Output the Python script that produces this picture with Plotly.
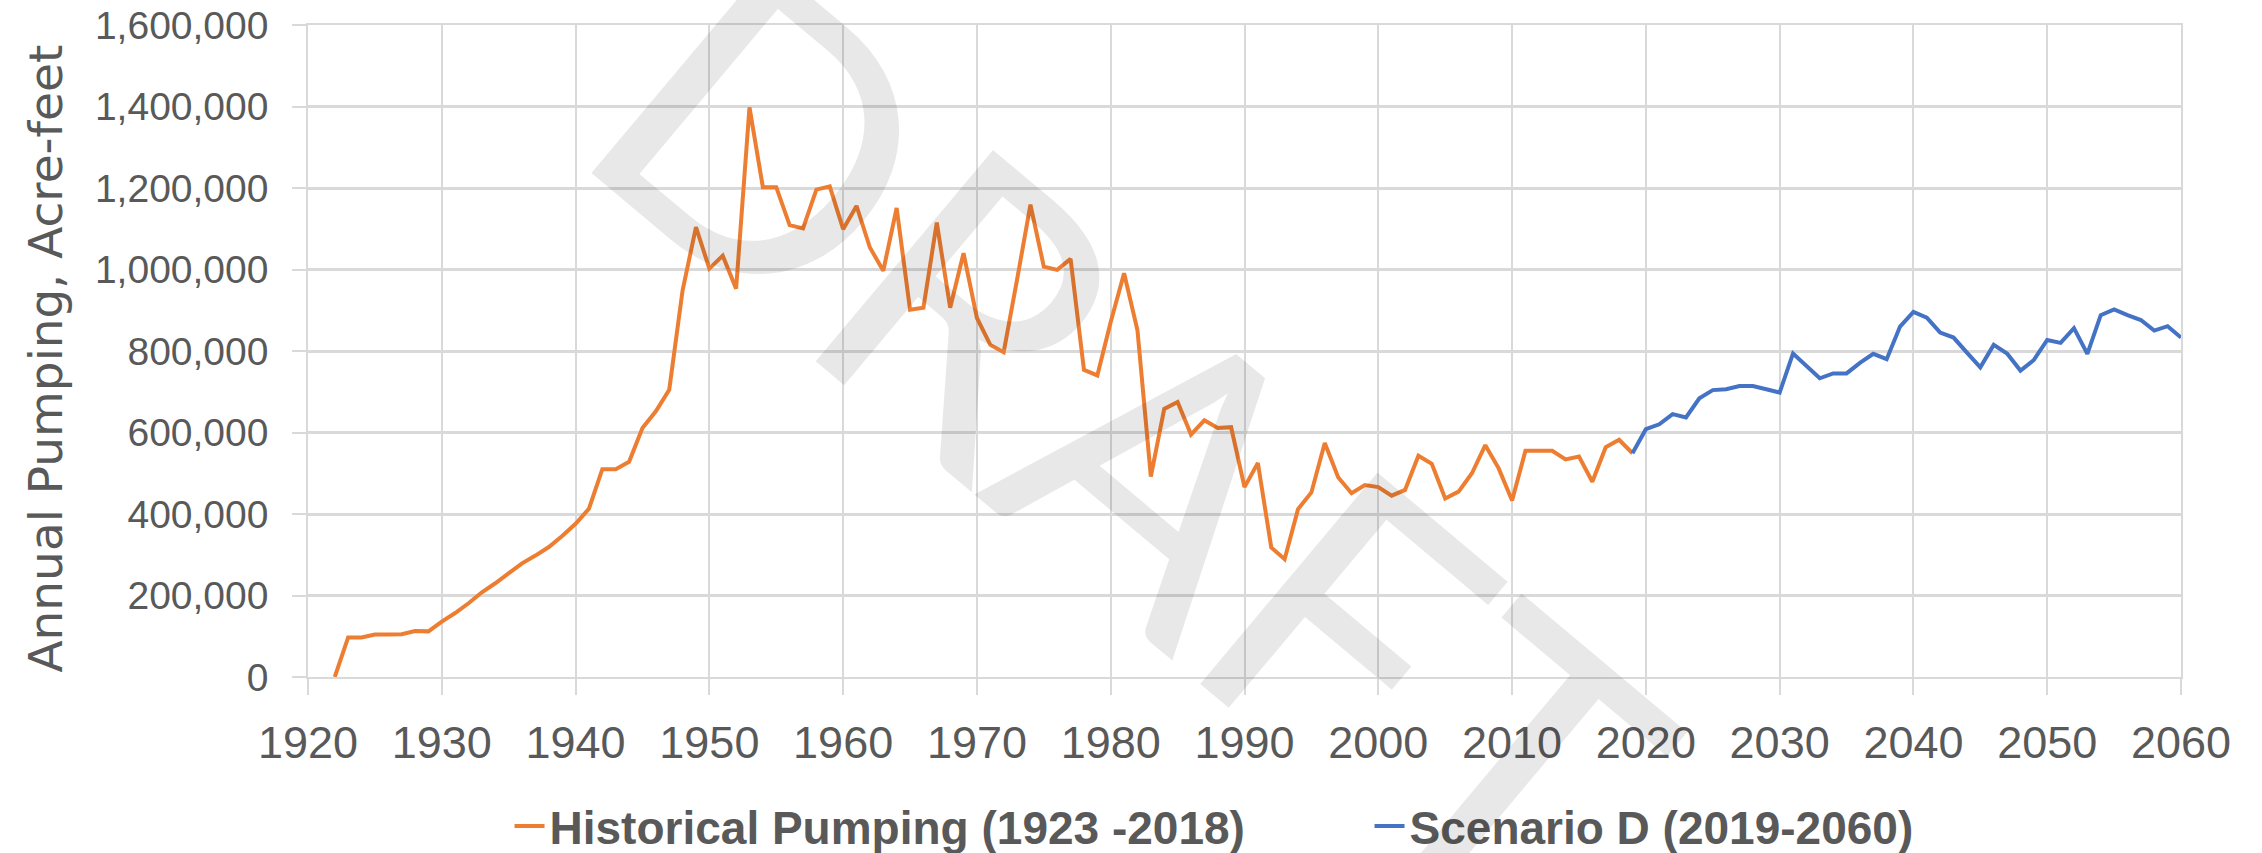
import plotly.graph_objects as go

# ---- data ----
hist_years = list(range(1922, 2020))
hist_values = [
    0, 97000, 97000, 104000, 104000, 105000, 113000, 112000,          # 1922-1929
    136000, 157000, 181000, 208000, 230000, 255000, 279000, 298000, 319000, 346000,  # 1930-1939
    376000, 413000, 510000, 510000, 528000, 611000, 652000, 705000, 949000, 1104000,  # 1940-1949
    1002000, 1034000, 953000, 1398000, 1202000, 1202000, 1109000, 1101000, 1196000, 1204000,  # 1950s
    1099000, 1156000, 1054000, 997000, 1151000, 901000, 906000, 1115000, 906000, 1040000,  # 1960s
    881000, 815000, 797000, 975000, 1159000, 1007000, 999000, 1026000, 754000, 740000,  # 1970s
    871000, 991000, 851000, 492000, 658000, 675000, 595000, 630000, 611000, 613000,  # 1980s
    466000, 525000, 318000, 289000, 412000, 453000, 574000, 490000, 451000, 471000,  # 1990s
    466000, 445000, 459000, 543000, 523000, 438000, 455000, 500000, 569000, 512000,  # 2000s
    433000, 555000, 555000, 555000, 534000, 541000, 479000, 564000, 582000, 549000,  # 2010-2019
]
scen_years = list(range(2019, 2061))
scen_values = [
    549000,                                                                           # 2019
    608000, 620000, 645000, 637000, 684000, 704000, 706000, 714000, 714000, 706000,  # 2020-2029
    698000, 794000, 765000, 733000, 745000, 745000, 771000, 793000, 780000, 860000,  # 2030-2039
    896000, 882000, 845000, 833000, 796000, 760000, 815000, 794000, 752000, 778000,  # 2040-2049
    827000, 820000, 856000, 793000, 888000, 902000, 888000, 876000, 850000, 861000,  # 2050-2059
    833000,                                                                           # 2060
]
hist_name = "Historical Pumping (1923 -2018)"
scen_name = "Scenario D (2019-2060)"
y_title = "Annual Pumping, Acre-feet"
watermark = "DRAFT"

GRID = "#d9d9d9"
TXT = "#595959"

fig = go.Figure()
fig.add_trace(go.Scatter(x=hist_years, y=hist_values, mode="lines", name=hist_name,
                         line=dict(color="#ED7D31", width=4)))
fig.add_trace(go.Scatter(x=scen_years, y=scen_values, mode="lines", name=scen_name,
                         line=dict(color="#4472C4", width=4)))

fig.update_layout(
    width=2262, height=853,
    margin=dict(l=308, r=81, t=25, b=176, pad=0, autoexpand=False),
    paper_bgcolor="white", plot_bgcolor="white",
    showlegend=True,
    legend=dict(orientation="h", x=0.1076, xanchor="left", y=-0.2285, yanchor="middle",
                entrywidth=815, entrywidthmode="pixels",
                font=dict(family="Liberation Sans, Arial, sans-serif", size=46, color=TXT, weight="bold"),
                bgcolor="rgba(0,0,0,0)"),
    annotations=[
        dict(text=watermark, xref="paper", yref="paper", x=0.4417, y=0.371,
             showarrow=False, textangle=40,
             font=dict(family="Lato, Open Sans, sans-serif", size=385, weight=400,
                       color="rgba(0,0,0,0.09)")),
        dict(text=y_title, xref="paper", yref="paper", x=-0.140, y=0.488,
             xanchor="center", yanchor="middle", showarrow=False, textangle=-90,
             font=dict(family="DejaVu Sans, sans-serif", size=47, color=TXT)),
    ],
)
fig.update_xaxes(range=[1920, 2060], dtick=10, tick0=1920,
                 showgrid=True, gridcolor=GRID, gridwidth=1.5,
                 showline=True, linecolor=GRID, linewidth=1.5, mirror=True,
                 ticks="outside", ticklen=16, tickcolor=GRID, tickwidth=1.5,
                 ticklabelstandoff=9, zeroline=False,
                 tickfont=dict(family="Liberation Sans, Arial, sans-serif", size=45, color=TXT))
fig.update_yaxes(range=[0, 1600000], dtick=200000, tickformat=",",
                 showgrid=True, gridcolor=GRID, gridwidth=2.5,
                 showline=True, linecolor=GRID, linewidth=1.5, mirror=True,
                 ticks="outside", ticklen=14, tickcolor=GRID, tickwidth=1.5,
                 ticklabelstandoff=16, zeroline=False,
                 tickfont=dict(family="Liberation Sans, Arial, sans-serif", size=39, color=TXT))

fig.write_html("out.html", config={"displayModeBar": False},
               post_script="document.body.style.margin='0';document.body.style.overflow='hidden';")
